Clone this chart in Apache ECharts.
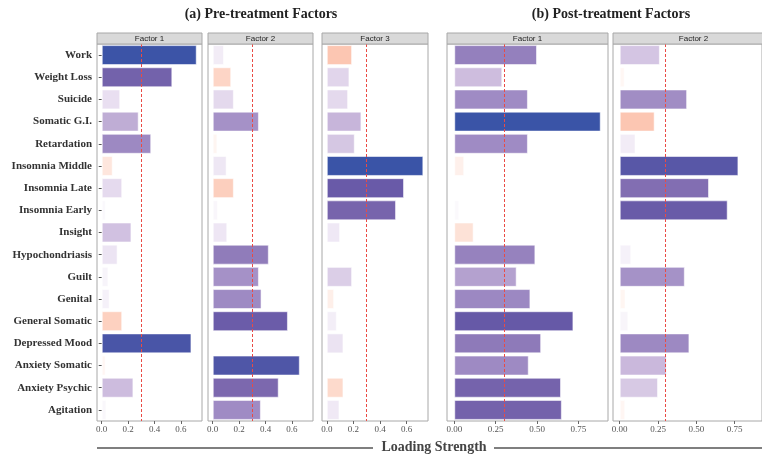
<!DOCTYPE html>
<html><head><meta charset="utf-8">
<script src="https://cdn.jsdelivr.net/npm/echarts@6/dist/echarts.min.js"></script>
<style>html,body{margin:0;padding:0;background:#fff}#c{width:762px;height:460px}</style>
</head><body><div id="c"></div>
<script>
const categories = ['Work','Weight Loss','Suicide','Somatic G.I.','Retardation','Insomnia Middle','Insomnia Late','Insomnia Early','Insight','Hypochondriasis','Guilt','Genital','General Somatic','Depressed Mood','Anxiety Somatic','Anxiety Psychic','Agitation'];
const pre1  = [0.72, 0.535, 0.14, 0.28, 0.375, -0.083, 0.155, 0.03, 0.225, 0.12, 0.05, 0.06, -0.155, 0.68, -0.03, 0.24, 0.035];
const pre2  = [0.085, -0.14, 0.16, 0.35, -0.035, 0.105, -0.16, 0.04, 0.11, 0.425, 0.35, 0.37, 0.57, 0.005, 0.66, 0.50, 0.365];
const pre3  = [-0.19, 0.17, 0.16, 0.26, 0.21, 0.725, 0.58, 0.52, 0.10, -0.008, 0.19, -0.055, 0.075, 0.125, 0.01, -0.125, 0.095];
const post1 = [0.50, 0.29, 0.445, 0.885, 0.445, -0.06, 0.0, 0.03, -0.117, 0.49, 0.377, 0.46, 0.72, 0.525, 0.45, 0.645, 0.65];
const post2 = [0.262, -0.032, 0.44, -0.228, 0.103, 0.775, 0.583, 0.705, 0.0, 0.075, 0.425, -0.038, 0.056, 0.455, 0.306, 0.25, -0.036];
const panelTitles = ['Factor 1','Factor 2','Factor 3','Factor 1','Factor 2'];
const preTicks = [0, 0.2, 0.4, 0.6];
const postTicks = [0, 0.25, 0.5, 0.75];
const threshold = 0.3;

const posStops = [[0,'#ffffff'],[0.2,'#e8def0'],[0.35,'#c9b7db'],[0.5,'#a08cc4'],[0.7,'#7a66ad'],[0.82,'#6558a7'],[1,'#3a54a7']];
const negStops = [[0,'#ffffff'],[1,'#fcc6b2']];
function hex(c){return [parseInt(c.slice(1,3),16),parseInt(c.slice(3,5),16),parseInt(c.slice(5,7),16)];}
function interp(stops,t){
  t=Math.max(0,Math.min(1,t));
  for(let i=1;i<stops.length;i++){
    if(t<=stops[i][0]){
      const a=stops[i-1],b=stops[i];const f=(t-a[0])/(b[0]-a[0]);
      const ca=hex(a[1]),cb=hex(b[1]);
      return 'rgb('+ca.map((v,k)=>Math.round(v+(cb[k]-v)*f)).join(',')+')';
    }
  }
  return stops[stops.length-1][1];
}
function colorFor(v,posMax,negMax){return v>=0?interp(posStops,v/posMax):interp(negStops,-v/negMax);}

const groups = [
  {data:pre1, left:97, width:105, min:-0.036, max:0.76, ticks:preTicks, dec:1, posMax:0.725, negMax:0.19},
  {data:pre2, left:208, width:105, min:-0.036, max:0.76, ticks:preTicks, dec:1, posMax:0.725, negMax:0.19},
  {data:pre3, left:322, width:106, min:-0.036, max:0.76, ticks:preTicks, dec:1, posMax:0.725, negMax:0.19},
  {data:post1, left:447, width:161, min:-0.044, max:0.929, ticks:postTicks, dec:2, posMax:0.885, negMax:0.228},
  {data:post2, left:613, width:161, min:-0.044, max:0.929, ticks:postTicks, dec:2, posMax:0.885, negMax:0.228}
];
const TOP=44, H=377, STRIP=11;
const serif='"Liberation Serif","DejaVu Serif",serif';

const grid=[],xAxis=[],yAxis=[],series=[],graphic=[];
groups.forEach((g,i)=>{
  grid.push({left:g.left,top:TOP,width:g.width,height:H,show:true,borderColor:'#a8a8a8',borderWidth:1,backgroundColor:'#fff'});
  xAxis.push({type:'value',gridIndex:i,min:g.min,max:g.max,
    axisLine:{show:false},splitLine:{show:false},
    axisTick:{show:true,customValues:g.ticks,length:3,lineStyle:{color:'#666'}},
    axisLabel:{show:true,customValues:g.ticks,fontSize:9,fontFamily:serif,color:'#555',margin:4,
      formatter:v=>Number(v).toFixed(g.dec)}});
  yAxis.push({type:'category',gridIndex:i,data:categories,inverse:true,
    axisLine:{show:false},splitLine:{show:false},
    axisTick:{show:i===0,length:3,alignWithLabel:true,lineStyle:{color:'#555'}},
    axisLabel:{show:i===0,fontSize:11,fontWeight:'bold',fontFamily:serif,color:'#333',margin:5}});
  series.push({type:'bar',xAxisIndex:i,yAxisIndex:i,barWidth:'90%',silent:true,animation:false,
    data:g.data.map(v=>({value:Math.abs(v),itemStyle:{color:colorFor(v,g.posMax,g.negMax)}})),
    itemStyle:{borderColor:'rgba(255,255,255,0.55)',borderWidth:1},
    markLine:{silent:true,symbol:['none','none'],label:{show:false},animation:false,
      lineStyle:{color:'#ea4a44',type:[3,2],width:1},data:[{xAxis:threshold}]}});
  graphic.push({type:'rect',shape:{x:g.left,y:TOP-STRIP,width:g.width,height:STRIP},
    style:{fill:'#d9d9d9',stroke:'#a8a8a8',lineWidth:1},z:10});
  graphic.push({type:'text',x:g.left+g.width/2,y:TOP-STRIP/2,
    style:{text:panelTitles[i],fontSize:8,fontFamily:'"Liberation Sans",Arial,sans-serif',fill:'#222',align:'center',verticalAlign:'middle'},z:11});
});
graphic.push({type:'text',x:261,y:14,style:{text:'(a) Pre-treatment Factors',fontSize:14,fontWeight:'bold',fontFamily:serif,fill:'#222',align:'center',verticalAlign:'middle'}});
graphic.push({type:'text',x:611,y:14,style:{text:'(b) Post-treatment Factors',fontSize:14,fontWeight:'bold',fontFamily:serif,fill:'#222',align:'center',verticalAlign:'middle'}});
graphic.push({type:'text',x:434,y:447,style:{text:'Loading Strength',fontSize:14,fontWeight:'bold',fontFamily:serif,fill:'#444',align:'center',verticalAlign:'middle'}});
graphic.push({type:'line',shape:{x1:97,y1:448,x2:373,y2:448},style:{stroke:'#555',lineWidth:1.5}});
graphic.push({type:'line',shape:{x1:494,y1:448,x2:780,y2:448},style:{stroke:'#555',lineWidth:1.5}});

const chart=echarts.init(document.getElementById('c'),null,{renderer:'canvas'});
chart.setOption({animation:false,grid,xAxis,yAxis,series,graphic});
</script></body></html>
